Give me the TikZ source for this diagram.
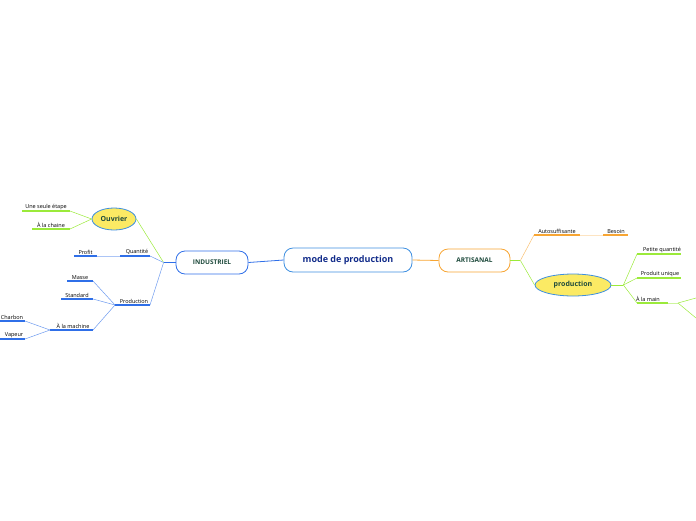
\documentclass[tikz,border=0pt]{standalone}
\usepackage{fontspec}
\setmainfont{Open Sans}
\definecolor{bl}{HTML}{2F6FE8}
\definecolor{lbl}{HTML}{3D8FE0}
\definecolor{og}{HTML}{F7A533}
\definecolor{gr}{HTML}{9BEA3A}
\definecolor{yel}{HTML}{FBEA64}
\definecolor{dk}{HTML}{1E4A3C}
\tikzset{
 lab/.style={font=\fontsize{5.5}{6}\selectfont, inner sep=1pt, anchor=south},
 root/.style={draw=lbl, rounded corners=9pt, line width=0.8pt, minimum width=128pt, minimum height=24pt, font=\bfseries\fontsize{9}{10}\selectfont, text=dk!60!blue},
 main/.style={rounded corners=9pt, line width=0.8pt, minimum height=23pt, font=\bfseries\fontsize{6.5}{7}\selectfont, text=dk},
 ell/.style={ellipse, draw=lbl, fill=yel, line width=0.8pt, font=\bfseries\fontsize{7}{8}\selectfont, text=dk, inner sep=0pt},
}
\usetikzlibrary{shapes.geometric}
\newcommand{\ul}[5]{% name, x1, x2, y, color
 \coordinate (#1a) at (#2,#4); \coordinate (#1b) at (#3,#4);
 \draw[#5, line width=1.5pt] (#1a) -- (#1b);}
\newcommand{\cn}[3]{\draw[#3, line width=0.5pt] (#1) .. controls ($(#1)!0.5!(#2)$ |- #1) and ($(#1)!0.5!(#2)$ |- #2) .. (#2);}
\usetikzlibrary{calc}
\begin{document}
\begin{tikzpicture}[x=1pt,y=-1pt]
\useasboundingbox (0,0) rectangle (696,520);
\node[root] (c) at (348,260) {mode de production};
\node[main, draw=bl, minimum width=72pt] (ind) at (212,262.5) {INDUSTRIEL};
\node[main, draw=og, minimum width=71pt] (art) at (474.5,260.5) {ARTISANAL};
\draw[bl, line width=0.8pt] (c.west) -- (ind.east);
\draw[og, line width=0.8pt] (c.east) -- (art.east -| art.west);
\node[ell, minimum width=44pt, minimum height=22pt] (ouv) at (114,219) {Ouvrier};
\node[ell, minimum width=76pt, minimum height=22pt] (prod) at (573,285) {production};
% left lines
\ul{use}{22}{70}{211}{gr} \node[lab] at (46,211) {Une seule étape};
\ul{alc}{32}{70}{229}{gr} \node[lab] at (51,229) {À la chaine};
\ul{pro}{74}{97}{256}{bl} \node[lab] at (85.5,256) {Profit};
\ul{qua}{120}{150}{256}{bl} \node[lab] at (137,256) {Quantité};
\draw[bl!40, line width=1pt] (prob) -- (quaa);
\ul{mas}{67}{93}{281}{bl} \node[lab] at (80,281) {Masse};
\ul{sta}{61}{93}{299}{bl} \node[lab] at (77,299) {Standard};
\ul{prd}{115}{150}{305}{bl} \node[lab] at (134,305) {Production};
\ul{alm}{50}{93}{330}{bl} \node[lab] at (73,330) {À la machine};
\ul{cha}{0}{25}{321}{bl} \node[lab] at (12,321) {Charbon};
\ul{vap}{0}{25}{339}{bl} \node[lab] at (14,339) {Vapeur};
\coordinate (indw) at ($(ind.west)+(-12,0)$);
\draw[bl, line width=0.8pt] (ind.west) -- (indw);
\cn{indw}{ouv.east}{gr}
\cn{indw}{quab}{bl!70}
\cn{indw}{prdb}{bl!70}
\cn{ouv.west}{useb}{gr}
\cn{ouv.west}{alcb}{gr}
\coordinate (pj) at (103,330);
\cn{prda}{masb}{bl!70}
\cn{prda}{stab}{bl!70}
\cn{prda}{almb}{bl!70}
\cn{alma}{chab}{bl!70}
\cn{alma}{vapb}{bl!70}
% right
\ul{aut}{534}{580}{235}{og} \node[lab] at (557,235) {Autosuffisante};
\ul{bes}{603}{628}{235}{og} \node[lab] at (616,235) {Besoin};
\draw[og!30, line width=1pt] (autb) -- (besa);
\ul{pet}{637}{681}{254}{gr} \node[lab] at (662,254) {Petite quantité};
\ul{pun}{637}{681}{278}{gr} \node[lab] at (660,278) {Produit unique};
\ul{alh}{637}{668}{303}{gr} \node[lab] at (648,303) {À la main};
\ul{x1}{696}{700}{298}{gr}
\ul{x2}{696}{700}{318}{gr}
\coordinate (arte) at ($(art.east)+(10,0)$);
\draw[gr, line width=0.8pt] (art.east) -- (arte);
\cn{arte}{auta}{og!70}
\cn{arte}{prod.west}{gr}
\coordinate (prode) at ($(prod.east)+(12,0)$);
\draw[gr, line width=1pt] (prod.east) -- (prode);
\cn{prode}{peta}{gr}
\cn{prode}{puna}{gr}
\cn{prode}{alha}{gr}
\draw[gr!50, line width=1pt] (alhb) -- (678,303);
\cn{678,303}{x1a}{gr}
\cn{678,303}{x2a}{gr}
\end{tikzpicture}
\end{document}
